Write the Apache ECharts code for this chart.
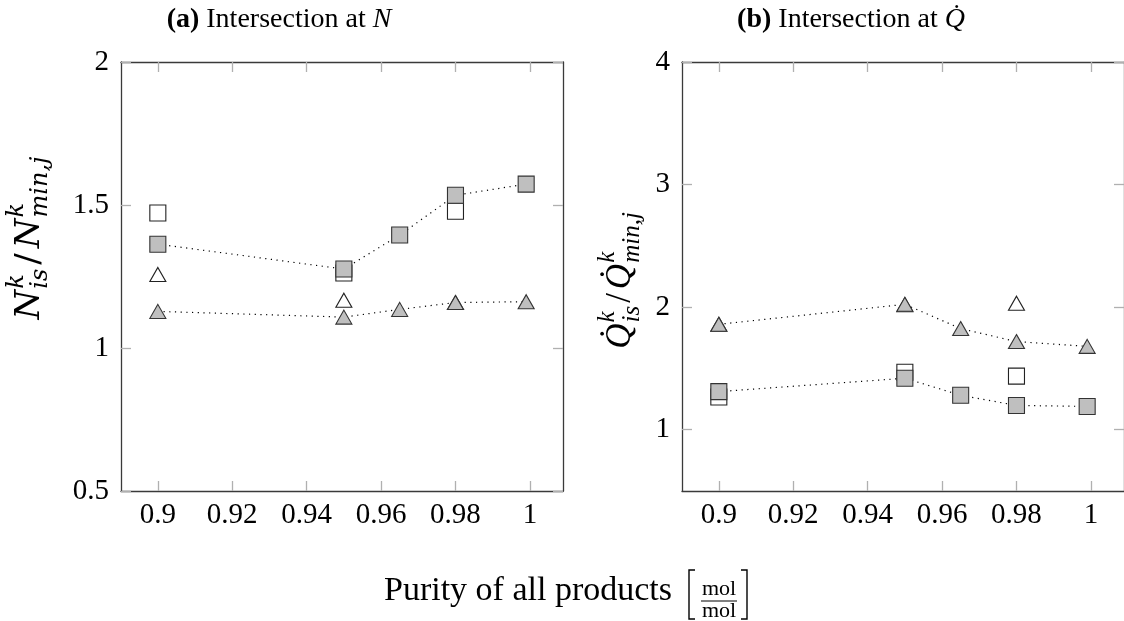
<!DOCTYPE html>
<html>
<head>
<meta charset="utf-8">
<script src="https://cdn.jsdelivr.net/npm/echarts@6/dist/echarts.min.js"></script>
<style>
  html, body { margin: 0; background: #fff; }
  #chart { width: 1124px; height: 621px; }
</style>
</head>
<body>
<div id="chart"></div>
<script>
// purity levels on the x axis
var purity = [0.9, 0.95, 0.965, 0.98, 0.999];
var xTicks = [0.9, 0.92, 0.94, 0.96, 0.98, 1];
var nTicks = [0.5, 1, 1.5, 2];
var qTicks = [1, 2, 3, 4];

// (a) intersection at N
var nFilledSquare = [1.363, 1.276, 1.395, 1.534, 1.573];
var nFilledTriangle = [1.128, 1.108, 1.135, 1.159, 1.162];
var nOpenSquare = [1.472, 1.262, null, 1.478, null];
var nOpenTriangle = [1.257, 1.167, null, 1.159, null];

// (b) intersection at Q dot
var qFilledSquare = [1.311, 1.42, 1.281, 1.198, 1.19];
var qFilledTriangle = [1.86, 2.023, 1.825, 1.719, 1.68];
var qOpenSquare = [1.267, 1.469, null, 1.437, null];
var qOpenTriangle = [1.86, 2.02, null, 2.032, null];

var SERIF = '"Liberation Serif", "Times New Roman", serif';
var WIDE = '"DejaVu Serif", serif';
var FILL = '#bfbfbf';
var XMIN = 0.8901, XMAX = 1.0089;

function pairs(ys) {
    var out = [];
    purity.forEach(function (x, i) { if (ys[i] != null) out.push([x, ys[i]]); });
    return out;
}

function fmt(v) { return String(parseFloat(v.toFixed(3))); }

var boxLine = { color: '#3a3a3a', width: 1.3 };
var tickStyle = { color: '#b0b0b0', width: 1.3 };

function xAxis(grid, top) {
    return {
        type: 'value', gridIndex: grid, position: top ? 'top' : 'bottom',
        min: XMIN, max: XMAX,
        axisLine: { show: true, onZero: false, lineStyle: boxLine },
        axisTick: { show: true, inside: true, length: 10, customValues: xTicks, lineStyle: tickStyle },
        axisLabel: top ? { show: false } : {
            show: true, customValues: xTicks, margin: 10, formatter: fmt,
            fontFamily: SERIF, fontSize: 29, color: '#000'
        },
        splitLine: { show: false }
    };
}

function yAxis(grid, right, min, max, ticks) {
    return {
        type: 'value', gridIndex: grid, position: right ? 'right' : 'left',
        min: min, max: max,
        axisLine: { show: true, onZero: false, lineStyle: boxLine },
        axisTick: { show: true, inside: true, length: 10, customValues: ticks, lineStyle: tickStyle },
        axisLabel: right ? { show: false } : {
            show: true, customValues: ticks, margin: 12, formatter: fmt,
            fontFamily: SERIF, fontSize: 29, color: '#000'
        },
        splitLine: { show: false }
    };
}

function openMarks(ys, sym, axis) {
    return {
        type: 'scatter', xAxisIndex: axis, yAxisIndex: axis, data: pairs(ys),
        symbol: sym, symbolSize: sym === 'rect' ? 16 : [16, 14],
        itemStyle: { color: '#fff', borderColor: '#222', borderWidth: 1.1, opacity: 1 },
        silent: true
    };
}

function filledLine(ys, sym, axis) {
    return {
        type: 'line', xAxisIndex: axis, yAxisIndex: axis, data: pairs(ys),
        symbol: sym, symbolSize: sym === 'rect' ? 16 : [16, 14], showAllSymbol: true,
        lineStyle: { color: '#000', width: 1.2, type: [1.2, 4.5] },
        itemStyle: { color: FILL, borderColor: '#333', borderWidth: 1.1 },
        silent: true
    };
}

// --- math-style axis labels built from measured text pieces ---
var meas = document.createElement('canvas').getContext('2d');
function tw(s, style, size, fam) {
    meas.font = style + ' ' + size + 'px ' + fam;
    return meas.measureText(s).width;
}
function piece(s, x, y, style, size, fam) {
    return {
        type: 'text', x: x, y: y, silent: true,
        style: { text: s, fontFamily: fam, fontStyle: style, fontSize: size, fill: '#000', align: 'left', verticalAlign: 'middle' }
    };
}
function mathLabel(parts, cx, cy, F, fam, gap) {
    var S = Math.round(F * 0.7), kids = [], x = 0;
    parts.forEach(function (p) {
        if (p.sup !== undefined) {
            kids.push(piece(p.sup, x + 1, -0.38 * F, 'italic', S, fam));
            kids.push(piece(p.sub, x + 1, 0.33 * F, 'italic', S, fam));
            x += Math.max(tw(p.sup, 'italic', S, fam), tw(p.sub, 'italic', S, fam)) + gap;
        } else {
            var st = p.roman ? 'normal' : 'italic';
            kids.push(piece(p.t, x, 0, st, F, fam));
            x += tw(p.t, st, F, fam) + (p.roman ? gap : 0);
        }
    });
    kids.forEach(function (k) { k.x -= x / 2; });
    return { type: 'group', x: cx, y: cy, rotation: Math.PI / 2, children: kids };
}

var QD = 'Q\u0307';
var nLabel = mathLabel([{ t: 'N' }, { sup: 'k', sub: 'is' }, { t: '/', roman: true }, { t: 'N' }, { sup: 'k', sub: 'min,j' }], 30, 236, 34, WIDE, 5);
var qLabel = mathLabel([{ t: QD }, { sup: 'k', sub: 'is' }, { t: '/', roman: true }, { t: QD }, { sup: 'k', sub: 'min,j' }], 621, 279, 35, SERIF, 4);

function title(text, cx) {
    return {
        type: 'text', x: cx, y: 20, silent: true,
        style: {
            text: text, fontFamily: SERIF, fontSize: 28, fill: '#000', align: 'center', verticalAlign: 'middle',
            rich: { b: { fontWeight: 'bold', fontFamily: SERIF, fontSize: 28 }, i: { fontStyle: 'italic', fontFamily: SERIF, fontSize: 28 } }
        }
    };
}

var bracketStyle = { stroke: '#000', lineWidth: 1.4, fill: null };

var chart = echarts.init(document.getElementById('chart'));
chart.setOption({
    animation: false,
    backgroundColor: '#fff',
    grid: [
        { left: 121, top: 62, width: 442, height: 429 },
        { left: 682, top: 62, width: 442, height: 429 }
    ],
    xAxis: [xAxis(0, false), xAxis(0, true), xAxis(1, false), xAxis(1, true)],
    yAxis: [
        yAxis(0, false, 0.5, 2, nTicks), yAxis(0, true, 0.5, 2, nTicks),
        yAxis(1, false, 0.5, 4, qTicks), yAxis(1, true, 0.5, 4, qTicks)
    ],
    series: [
        openMarks(nOpenTriangle, 'triangle', 0),
        openMarks(nOpenSquare, 'rect', 0),
        filledLine(nFilledTriangle, 'triangle', 0),
        filledLine(nFilledSquare, 'rect', 0),
        openMarks(qOpenTriangle, 'triangle', 2),
        openMarks(qOpenSquare, 'rect', 2),
        filledLine(qFilledTriangle, 'triangle', 2),
        filledLine(qFilledSquare, 'rect', 2)
    ],
    graphic: [
        title('{b|(a)} Intersection at {i|N}', 279),
        title('{b|(b)} Intersection at {i|' + QD + '}', 851),
        nLabel,
        qLabel,
        {
            type: 'text', x: 528, y: 591, silent: true,
            style: { text: 'Purity of all products', fontFamily: SERIF, fontSize: 34, fill: '#000', align: 'center', verticalAlign: 'middle' }
        },
        { type: 'polyline', silent: true, shape: { points: [[695, 570], [689, 570], [689, 619], [695, 619]] }, style: bracketStyle },
        { type: 'polyline', silent: true, shape: { points: [[741, 570], [747, 570], [747, 619], [741, 619]] }, style: bracketStyle },
        { type: 'line', silent: true, shape: { x1: 701, y1: 601, x2: 737, y2: 601 }, style: { stroke: '#000', lineWidth: 1 } },
        {
            type: 'text', x: 719, y: 589, silent: true,
            style: { text: 'mol', fontFamily: SERIF, fontSize: 22, fill: '#000', align: 'center', verticalAlign: 'middle' }
        },
        {
            type: 'text', x: 719, y: 611, silent: true,
            style: { text: 'mol', fontFamily: SERIF, fontSize: 22, fill: '#000', align: 'center', verticalAlign: 'middle' }
        }
    ]
});
</script>
</body>
</html>
